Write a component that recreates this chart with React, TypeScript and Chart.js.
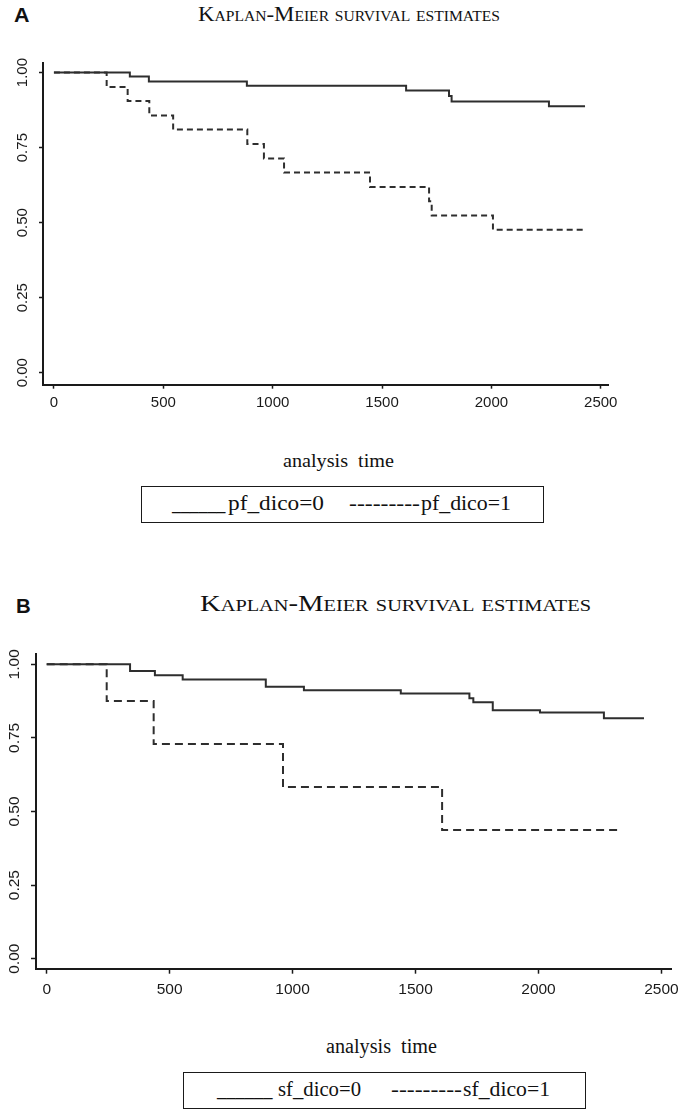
import React, { useEffect, useLayoutEffect, useRef } from "react";
import { Chart, registerables } from "chart.js";

Chart.register(...registerables);

// ---------- data ----------
const xTickValues = [0, 500, 1000, 1500, 2000, 2500];
const yTickValues = [0, 0.25, 0.5, 0.75, 1];

// Panel A: pf_dico
const pfTime0 = [0, 347, 434, 882, 1610, 1806, 1818, 2263, 2428];
const pfSurv0 = [1, 0.987, 0.97, 0.956, 0.94, 0.922, 0.904, 0.888, 0.888];
const pfTime1 = [0, 241, 337, 436, 545, 884, 960, 1052, 1445, 1715, 1727, 2007, 2428];
const pfSurv1 = [1, 0.952, 0.905, 0.857, 0.81, 0.762, 0.714, 0.667, 0.619, 0.571, 0.524, 0.476, 0.476];

// Panel B: sf_dico
const sfTime0 = [0, 339, 440, 553, 891, 1046, 1440, 1719, 1735, 1814, 2006, 2266, 2429];
const sfSurv0 = [1, 0.977, 0.963, 0.948, 0.924, 0.912, 0.901, 0.885, 0.871, 0.844, 0.836, 0.817, 0.817];
const sfTime1 = [0, 244, 435, 961, 1608, 2336];
const sfSurv1 = [1, 0.875, 0.729, 0.583, 0.4375, 0.4375];

const titleText = "Kaplan-Meier survival estimates";
const xAxisTitle = "analysis  time";

type Series = { times: number[]; surv: number[]; dash: number[] };

type PanelProps = {
  top: number;
  height: number;
  padTop: number;
  padRight: number;
  yAxisW: number;
  xAxisH: number;
  xMin: number;
  xMax: number;
  yMin: number;
  yMax: number;
  tickLen: number;
  xTickPad: number;
  yTickPad: number;
  tickSize: number;
  series: Series[];
};

function KMPanel(p: PanelProps) {
  const ref = useRef<HTMLCanvasElement>(null);
  useEffect(() => {
    const canvas = ref.current;
    if (!canvas) return;
    const chart = new Chart(canvas, {
      type: "line",
      data: {
        datasets: p.series.map((s) => ({
          data: s.times.map((t, i) => ({ x: t, y: s.surv[i] })),
          borderColor: "#2e2e2e",
          borderWidth: 2,
          borderDash: s.dash,
          stepped: "before" as const,
          pointRadius: 0,
          fill: false,
        })),
      },
      options: {
        animation: false,
        responsive: false,
        maintainAspectRatio: false,
        events: [],
        layout: { padding: { top: p.padTop, right: p.padRight, left: 0, bottom: 0 } },
        plugins: { legend: { display: false }, tooltip: { enabled: false }, title: { display: false } },
        scales: {
          x: {
            type: "linear",
            min: p.xMin,
            max: p.xMax,
            afterBuildTicks: (s: any) => {
              s.ticks = xTickValues.map((v) => ({ value: v }));
            },
            afterFit: (s: any) => {
              s.height = p.xAxisH;
            },
            grid: {
              display: true,
              drawOnChartArea: false,
              drawTicks: true,
              tickLength: p.tickLen,
              tickColor: "#1a1a1a",
              tickWidth: 1.5,
            },
            border: { display: true, color: "#1a1a1a", width: 2 },
            ticks: {
              autoSkip: false,
              maxRotation: 0,
              minRotation: 0,
              padding: p.xTickPad,
              color: "#1a1a1a",
              font: { family: '"Liberation Sans", Arial, sans-serif', size: p.tickSize },
              callback: (v: any) => String(v),
            },
          },
          y: {
            type: "linear",
            min: p.yMin,
            max: p.yMax,
            afterBuildTicks: (s: any) => {
              s.ticks = yTickValues.map((v) => ({ value: v }));
            },
            afterFit: (s: any) => {
              s.width = p.yAxisW;
            },
            grid: {
              display: true,
              drawOnChartArea: false,
              drawTicks: true,
              tickLength: p.tickLen,
              tickColor: "#1a1a1a",
              tickWidth: 1.5,
            },
            border: { display: true, color: "#1a1a1a", width: 2 },
            ticks: {
              autoSkip: false,
              minRotation: 90,
              maxRotation: 90,
              crossAlign: "center",
              padding: p.yTickPad,
              color: "#1a1a1a",
              font: { family: '"Liberation Sans", Arial, sans-serif', size: p.tickSize },
              callback: (v: any) => Number(v).toFixed(2),
            },
          },
        },
      } as any,
    });
    return () => chart.destroy();
  }, []);
  return (
    <canvas
      ref={ref}
      width={686}
      height={p.height}
      style={{ position: "absolute", left: 0, top: p.top, width: 686, height: p.height }}
    />
  );
}

type TextProps = {
  text: string;
  left: number;
  right: number;
  baseline: number;
  size: number;
  serif?: boolean;
  bold?: boolean;
  smallCaps?: boolean;
};

function FitText({ text, left, right, baseline, size, serif = true, bold = false, smallCaps = false }: TextProps) {
  const ref = useRef<HTMLSpanElement>(null);
  useLayoutEffect(() => {
    const el = ref.current;
    if (!el) return;
    el.style.transform = "none";
    const w = el.getBoundingClientRect().width;
    if (w > 0) el.style.transform = `scaleX(${(right - left) / w})`;
  }, [text, left, right, size]);
  const family = serif ? '"Liberation Serif", "Times New Roman", serif' : '"Liberation Sans", Arial, sans-serif';
  const asc = serif ? 0.891 : 0.905;
  const desc = serif ? 0.216 : 0.212;
  const top = baseline - ((1 - asc - desc) / 2 + asc) * size;
  return (
    <span
      ref={ref}
      style={{
        position: "absolute",
        left,
        top,
        fontSize: size,
        lineHeight: `${size}px`,
        fontFamily: family,
        fontWeight: bold ? 700 : 400,
        fontVariant: smallCaps ? "small-caps" : "normal",
        whiteSpace: "pre",
        transformOrigin: "0 0",
        color: "#111",
        display: "block",
      }}
    >
      {text}
    </span>
  );
}

const boxStyle = (left: number, top: number, w: number, h: number): React.CSSProperties => ({
  position: "absolute",
  left,
  top,
  width: w,
  height: h,
  border: "1.5px solid #1a1a1a",
  boxSizing: "border-box",
});

export default function App() {
  return (
    <div
      style={{
        position: "absolute",
        left: 0,
        top: 0,
        width: 686,
        height: 1115,
        background: "#fff",
        overflow: "hidden",
      }}
    >
      {/* Panel A */}
      <FitText text="A" left={14} right={29.5} baseline={22} size={21} serif={false} bold />
      <FitText text={titleText} left={198} right={500} baseline={21.7} size={22} smallCaps />
      <KMPanel
        top={40}
        height={390}
        padTop={23}
        padRight={78}
        yAxisW={43}
        xAxisH={45.3}
        xMin={-50}
        xMax={2533}
        yMin={-0.04}
        yMax={1.032}
        tickLen={4}
        xTickPad={5.6}
        yTickPad={1.4}
        tickSize={15}
        series={[
          { times: pfTime0, surv: pfSurv0, dash: [] },
          { times: pfTime1, surv: pfSurv1, dash: [6, 4] },
        ]}
      />
      <FitText text={xAxisTitle} left={283} right={394} baseline={467} size={18} />
      <div style={boxStyle(141, 486, 403, 37)} />
      <FitText text="______" left={171.5} right={225} baseline={509.5} size={20} />
      <FitText text="pf_dico=0" left={228} right={324} baseline={509.5} size={20} />
      <FitText text="---------" left={349} right={420} baseline={509.5} size={20} />
      <FitText text="pf_dico=1" left={421} right={511} baseline={509.5} size={20} />

      {/* Panel B */}
      <FitText text="B" left={16} right={30.7} baseline={613} size={21} serif={false} bold />
      <FitText text={titleText} left={200} right={591} baseline={610.7} size={24} smallCaps />
      <KMPanel
        top={630}
        height={390}
        padTop={24}
        padRight={14.3}
        yAxisW={36}
        xAxisH={51.3}
        xMin={-43.5}
        xMax={2541.7}
        yMin={-0.034}
        yMax={1.035}
        tickLen={5}
        xTickPad={6.6}
        yTickPad={1.4}
        tickSize={15.5}
        series={[
          { times: sfTime0, surv: sfSurv0, dash: [] },
          { times: sfTime1, surv: sfSurv1, dash: [8, 5] },
        ]}
      />
      <FitText text={xAxisTitle} left={326} right={437} baseline={1053} size={20} />
      <div style={boxStyle(183, 1072, 403, 36.5)} />
      <FitText text="______" left={216.5} right={272} baseline={1096} size={20} />
      <FitText text="sf_dico=0" left={278} right={361} baseline={1096} size={20} />
      <FitText text="---------" left={390.6} right={461.5} baseline={1096} size={20} />
      <FitText text="sf_dico=1" left={463} right={550} baseline={1096} size={20} />
    </div>
  );
}
